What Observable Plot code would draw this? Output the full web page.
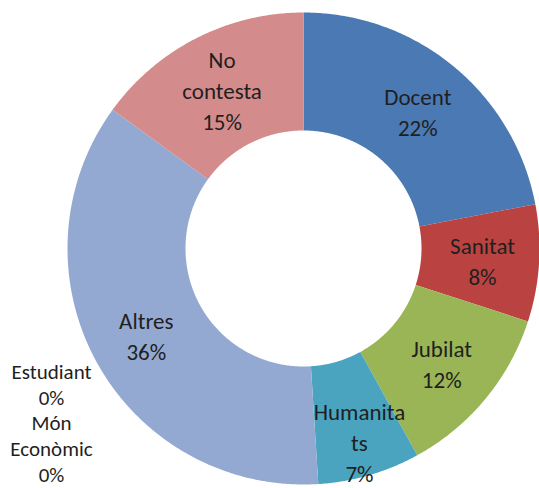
<!DOCTYPE html>
<html>
<head>
<meta charset="utf-8">
<script src="https://cdn.jsdelivr.net/npm/d3@7"></script>
<script src="https://cdn.jsdelivr.net/npm/@observablehq/plot@0.6"></script>
<style>
  html, body { margin: 0; padding: 0; background: #fff; }
  #chart svg { display: block; }
</style>
</head>
<body>
<div id="chart"></div>
<script>
// ---- data ----
const categories = ["Docent", "Sanitat", "Jubilat", "Humanitats", "Estudiant", "Món Econòmic", "Altres", "No contesta"];
const values = [22, 8, 12, 7, 0, 0, 36, 15];
const displayLabels = ["Docent", "Sanitat", "Jubilat", "Humanita\nts", "Estudiant", "Món\nEconòmic", "Altres", "No\ncontesta"];
const colors = ["#4A79B4", "#BA4341", "#99B555", "#4AA4BF", "#8064A2", "#F79646", "#94A9D1", "#D38C8B"];

// ---- layout ----
const W = 539, H = 488;
const cx = 303, cy = 248, R = 236; // pixel centre/radius used to set scale domains
const inner = 0.5;
const labelRadius = {"Humanitats": 0.85};

const total = d3.sum(values);
let acc = 0;
const slices = categories.map((c, i) => {
  const a0 = acc / total * 2 * Math.PI;
  acc += values[i];
  const a1 = acc / total * 2 * Math.PI;
  return {cat: c, value: values[i], label: displayLabels[i], a0, a1};
});

// polygon points for each slice (unit circle coords, y up, angle clockwise from top)
const pts = [];
for (const s of slices) {
  if (s.value === 0) continue;
  const n = Math.max(4, Math.ceil((s.a1 - s.a0) / (Math.PI / 360)));
  for (let k = 0; k <= n; k++) {
    const a = s.a0 + (s.a1 - s.a0) * k / n;
    pts.push({cat: s.cat, x: Math.sin(a), y: Math.cos(a)});
  }
  for (let k = n; k >= 0; k--) {
    const a = s.a0 + (s.a1 - s.a0) * k / n;
    pts.push({cat: s.cat, x: inner * Math.sin(a), y: inner * Math.cos(a)});
  }
}

const labels = slices.filter(s => s.value > 0).map(s => {
  const a = (s.a0 + s.a1) / 2;
  const r = labelRadius[s.cat] ?? 0.76;
  return {x: r * Math.sin(a), y: r * Math.cos(a), text: s.label + "\n" + Math.round(s.value / total * 100) + "%"};
});

const zeroText = slices.filter(s => s.value === 0).map(s => s.label + "\n" + Math.round(s.value / total * 100) + "%").join("\n");

const font = "Carlito, Calibri, 'Open Sans', sans-serif";

const chart = Plot.plot({
  width: W,
  height: H,
  margin: 0,
  style: {fontFamily: font, background: "#fff"},
  x: {domain: [-cx / R, (W - cx) / R], axis: null},
  y: {domain: [-(H - cy) / R, cy / R], axis: null},
  color: {domain: categories, range: colors},
  marks: [
    Plot.line(pts, {x: "x", y: "y", z: "cat", fill: "cat", stroke: "none", curve: "linear-closed"}),
    Plot.text(labels, {x: "x", y: "y", text: "text", fontSize: 23, lineHeight: 1.35, fill: "#1f1f1f"}),
    Plot.text([zeroText], {text: d => d, frameAnchor: "bottom-left", dx: 51, dy: -7, lineAnchor: "bottom", textAnchor: "middle", fontSize: 21, lineHeight: 1.22, fill: "#1f1f1f"})
  ]
});

document.getElementById("chart").appendChild(chart);
</script>
</body>
</html>
